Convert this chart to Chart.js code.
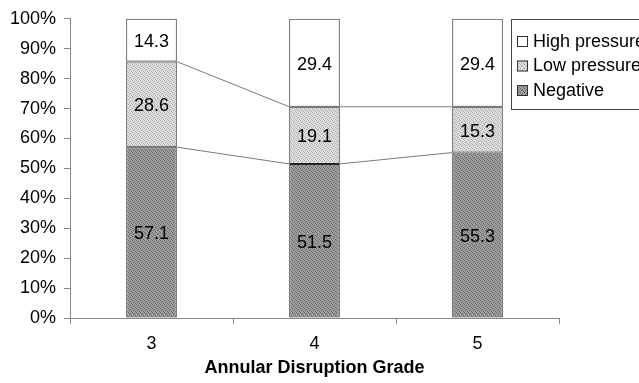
<!DOCTYPE html>
<html>
<head>
<meta charset="utf-8">
<script src="https://cdn.jsdelivr.net/npm/chart.js@4"></script>
<style>
  html, body { margin: 0; padding: 0; background: #fff; }
  canvas { display: block; }
</style>
</head>
<body>
<canvas id="c" width="639" height="383"></canvas>
<script>
// Share of outcomes per annular disruption grade (percent)
const grades = ['3', '4', '5'];
const negative = [57.1, 51.5, 55.3];
const lowPressure = [28.6, 19.1, 15.3];
const highPressure = [14.3, 29.4, 29.4];
const yTicks = [0, 10, 20, 30, 40, 50, 60, 70, 80, 90, 100];

const FONT = 'Liberation Sans, Arial, sans-serif';

// Fine stippled fills, like print-style hatching
function stipple(base, dot) {
  const t = document.createElement('canvas');
  t.width = 4; t.height = 4;
  const g = t.getContext('2d');
  g.fillStyle = base; g.fillRect(0, 0, 4, 4);
  g.fillStyle = dot;
  [[0,0],[2,1],[1,2],[3,3]].forEach(([x, y]) => g.fillRect(x, y, 1, 1));
  return g.createPattern(t, 'repeat');
}
const ctx0 = document.getElementById('c').getContext('2d');
const darkFill = stipple('#9c9c9c', '#6a6a6a');
const lightFill = stipple('#dcdcdc', '#adadad');

const series = [
  { label: 'Negative', data: negative, fill: darkFill },
  { label: 'Low pressure', data: lowPressure, fill: lightFill },
  { label: 'High pressure', data: highPressure, fill: '#ffffff' }
];

// Value labels centred in each segment, plus the series lines between bars
const overlay = {
  id: 'overlay',
  afterDatasetsDraw(chart) {
    const ctx = chart.ctx;
    const y = chart.scales.y;
    // series lines from the top of one stack segment to the next bar
    ctx.save();
    ctx.strokeStyle = '#7a7a7a';
    ctx.lineWidth = 1;
    const cum = grades.map(() => 0);
    for (let d = 0; d < 2; d++) {
      const meta = chart.getDatasetMeta(d);
      series[d].data.forEach((v, i) => cum[i] += v);
      for (let i = 0; i < grades.length - 1; i++) {
        const a = meta.data[i], b = meta.data[i + 1];
        ctx.beginPath();
        ctx.moveTo(a.x + a.width / 2, y.getPixelForValue(cum[i]));
        ctx.lineTo(b.x - b.width / 2, y.getPixelForValue(cum[i + 1]));
        ctx.stroke();
      }
    }
    // segment value labels
    ctx.fillStyle = '#000';
    ctx.font = '18px ' + FONT;
    ctx.textAlign = 'center';
    ctx.textBaseline = 'middle';
    chart.data.datasets.forEach((ds, d) => {
      const meta = chart.getDatasetMeta(d);
      meta.data.forEach((el, i) => {
        ctx.fillText(ds.data[i].toFixed(1), el.x, (el.y + el.base) / 2 + 2);
      });
    });
    ctx.restore();
  },
  afterDraw(chart) {
    // legend box, listed top to bottom as in the stack
    const ctx = chart.ctx;
    ctx.save();
    const bx = 511.5, by = 19.5, bw = 140, bh = 90;
    ctx.strokeStyle = '#444';
    ctx.lineWidth = 1;
    ctx.fillStyle = '#fff';
    ctx.fillRect(bx, by, bw, bh);
    ctx.strokeRect(bx, by, bw, bh);
    ctx.font = '18px ' + FONT;
    ctx.textBaseline = 'middle';
    ctx.textAlign = 'left';
    const order = [2, 1, 0];
    order.forEach((d, k) => {
      const cy = 41 + k * 24.5;
      ctx.fillStyle = series[d].fill;
      ctx.fillRect(517, cy - 5, 11, 11);
      ctx.strokeStyle = '#333';
      ctx.strokeRect(517.5, cy - 4.5, 10, 10);
      ctx.fillStyle = '#000';
      ctx.fillText(series[d].label, 533, cy + 1);
    });
    ctx.restore();
  }
};

new Chart(ctx0, {
  type: 'bar',
  data: {
    labels: grades,
    datasets: series.map(s => ({
      label: s.label,
      data: s.data,
      backgroundColor: s.fill,
      borderColor: '#222',
      borderWidth: 1,
      borderSkipped: false,
      barPercentage: 0.62,
      categoryPercentage: 0.5
    }))
  },
  options: {
    responsive: false,
    animation: false,
    events: [],
    layout: { padding: { top: 13, right: 80, left: 0, bottom: 0 } },
    plugins: { legend: { display: false }, tooltip: { enabled: false } },
    scales: {
      x: {
        stacked: true,
        afterFit(scale) { scale.height = 65; },
        grid: { display: true, drawOnChartArea: false, offset: true, tickLength: 6, color: '#888' },
        border: { color: '#888' },
        ticks: { color: '#000', font: { family: FONT, size: 18 }, padding: 9 },
        title: {
          display: true,
          text: 'Annular Disruption Grade',
          color: '#000',
          font: { family: FONT, size: 18, weight: 'bold' },
          padding: { top: 4, bottom: 4 }
        }
      },
      y: {
        stacked: true,
        min: 0,
        max: 100,
        afterBuildTicks(scale) { scale.ticks = yTicks.map(v => ({ value: v })); },
        afterFit(scale) { scale.width = 70; },
        grid: { display: true, drawOnChartArea: false, tickLength: 6, color: '#888' },
        border: { color: '#888' },
        ticks: {
          color: '#000',
          font: { family: FONT, size: 18 },
          padding: 8,
          callback: v => v + '%'
        }
      }
    }
  },
  plugins: [overlay]
});
</script>
</body>
</html>
